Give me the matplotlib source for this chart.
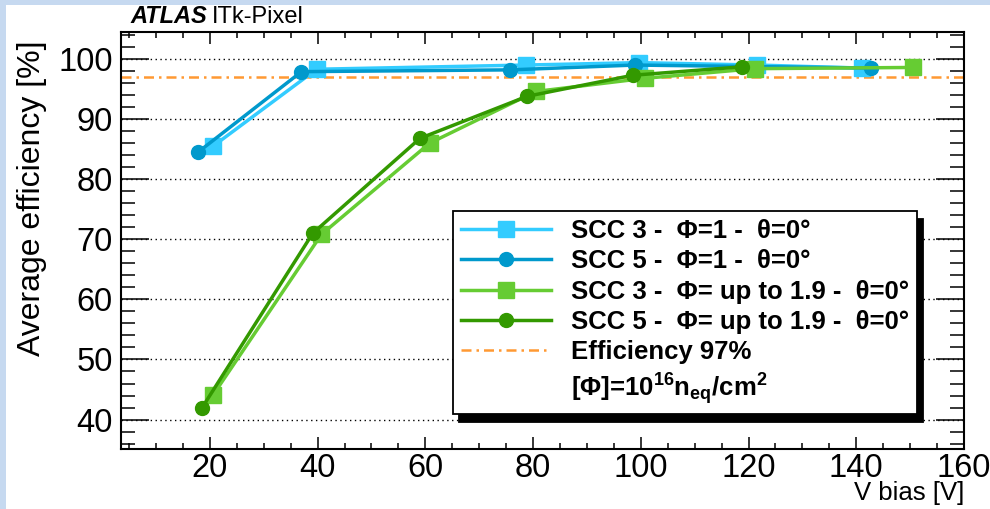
import matplotlib
matplotlib.use('Agg')
import matplotlib.pyplot as plt
import matplotlib.patches as patches
from matplotlib.lines import Line2D
from matplotlib.ticker import MultipleLocator

plt.rcParams['font.family'] = ['Liberation Sans', 'DejaVu Sans']
plt.rcParams['mathtext.fontset'] = 'custom'
plt.rcParams['mathtext.bf'] = 'Liberation Sans:bold'
plt.rcParams['mathtext.rm'] = 'Liberation Sans:bold'
plt.rcParams['mathtext.default'] = 'bf'

# Data
v_scc3_phi1 = [20.6, 39.8, 78.6, 99.7, 121.5, 141.0]
eff_scc3_phi1 = [85.5, 98.3, 99.0, 99.4, 99.0, 98.5]

v_scc5_phi1 = [17.8, 37.0, 75.8, 98.9, 142.8]
eff_scc5_phi1 = [84.5, 97.9, 98.2, 99.0, 98.5]

v_scc3_phi19 = [20.6, 40.7, 60.8, 80.5, 100.8, 121.2, 150.5]
eff_scc3_phi19 = [44.1, 70.8, 86.0, 94.6, 96.8, 98.4, 98.6]

v_scc5_phi19 = [18.5, 39.1, 59.0, 78.9, 98.5, 118.7]
eff_scc5_phi19 = [41.9, 71.0, 86.8, 93.8, 97.3, 98.7]

eff_ref = 97
labels = ['SCC 3 -  \u03a6=1 -  \u03b8=0\u00b0',
          'SCC 5 -  \u03a6=1 -  \u03b8=0\u00b0',
          'SCC 3 -  \u03a6= up to 1.9 -  \u03b8=0\u00b0',
          'SCC 5 -  \u03a6= up to 1.9 -  \u03b8=0\u00b0',
          'Efficiency 97%',
          '[\u03a6]=10$^{16}$n$_{eq}$/cm$^{2}$']

c_lblue = '#33ccff'
c_blue = '#0099cc'
c_lgreen = '#66cc33'
c_green = '#339900'
c_orange = '#ff9933'

fig = plt.figure(figsize=(9.9, 5.09), dpi=100)
fig.patch.set_facecolor('white')

# light blue frame strips (top and left)
fig.patches.append(patches.Rectangle((0, 1 - 5 / 509), 1, 5 / 509, transform=fig.transFigure,
                                     facecolor='#c6d9f0', edgecolor='none', zorder=0))
fig.patches.append(patches.Rectangle((0, 0), 6 / 990, 1, transform=fig.transFigure,
                                     facecolor='#c6d9f0', edgecolor='none', zorder=0))

ax = fig.add_axes([121 / 990, 1 - 449 / 509, (964 - 121) / 990, (449 - 32) / 509])
ax.set_xlim(3.5, 160)
ax.set_ylim(35.1, 104.5)

# grid
for y in range(40, 101, 10):
    ax.axhline(y, color='black', lw=1.0, ls=(0, (1, 2.5)), zorder=1)

ax.axhline(eff_ref, color=c_orange, lw=1.8, ls=(0, (4, 2, 1, 2)), zorder=2)

ax.plot(v_scc3_phi1, eff_scc3_phi1, color=c_lblue, lw=2.5, marker='s', ms=11, zorder=3)
ax.plot(v_scc5_phi1, eff_scc5_phi1, color=c_blue, lw=2.5, marker='o', ms=10, zorder=3)
ax.plot(v_scc3_phi19, eff_scc3_phi19, color=c_lgreen, lw=2.5, marker='s', ms=11, zorder=3)
ax.plot(v_scc5_phi19, eff_scc5_phi19, color=c_green, lw=2.5, marker='o', ms=10, zorder=3)

# ticks
ax.xaxis.set_major_locator(MultipleLocator(20))
ax.xaxis.set_minor_locator(MultipleLocator(5))
ax.yaxis.set_major_locator(MultipleLocator(10))
ax.yaxis.set_minor_locator(MultipleLocator(2))
ax.tick_params(axis='both', which='both', direction='in', top=True, right=True, width=1.1)
ax.tick_params(axis='x', which='major', length=8.5, labelsize=23.5, pad=3)
ax.tick_params(axis='x', which='minor', length=4.3)
ax.tick_params(axis='y', which='major', length=20, labelsize=23.5, pad=6)
ax.tick_params(axis='y', which='minor', length=10)
for s in ax.spines.values():
    s.set_linewidth(1.5)

# legend
handles = [
    Line2D([], [], color=c_lblue, lw=2.5, marker='s', ms=11),
    Line2D([], [], color=c_blue, lw=2.5, marker='o', ms=10),
    Line2D([], [], color=c_lgreen, lw=2.5, marker='s', ms=11),
    Line2D([], [], color=c_green, lw=2.5, marker='o', ms=10),
    Line2D([], [], color=c_orange, lw=1.8, ls=(0, (4, 2, 1, 2))),
    Line2D([], [], color='none'),
]
leg = ax.legend(handles, labels, loc='upper left',
                bbox_to_anchor=(453 / 990, 1 - 211 / 509), bbox_transform=fig.transFigure,
                borderaxespad=0, frameon=True, fancybox=False, edgecolor='black',
                framealpha=1, handlelength=3.5, handletextpad=0.8, labelspacing=0.25,
                borderpad=0.3, prop={'weight': 'bold', 'size': 18.5},
                shadow={'ox': 4.5, 'oy': -5.5, 'facecolor': 'black', 'edgecolor': 'black',
                        'alpha': 1})
leg.get_frame().set_linewidth(1.3)
leg.set_zorder(10)

# texts
fig.text(130 / 990, 1 - 23 / 509, 'ATLAS', fontsize=17, fontweight='bold', fontstyle='italic',
         ha='left', va='baseline')
fig.text(212 / 990, 1 - 23 / 509, 'ITk-Pixel', fontsize=17, ha='left', va='baseline')
fig.text(32 / 990, 1 - 40 / 509, 'Average efficiency [%]', fontsize=23, rotation=90,
         ha='center', va='top')
fig.text(964 / 990, 1 - 500 / 509, 'V bias [V]', fontsize=18.5, ha='right', va='baseline')

fig.savefig('out.png', dpi=100)
